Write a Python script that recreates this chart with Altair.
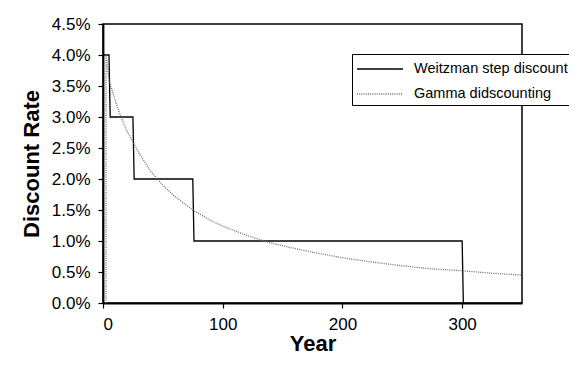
import altair as alt
import pandas as pd

# Weitzman step discount (year, rate %)
step_years = [0, 5, 6, 25, 26, 75, 76, 300, 301]
step_rates = [4.0, 4.0, 3.0, 3.0, 2.0, 2.0, 1.0, 1.0, 0.0]

# Gamma discounting (year, rate %)
gamma_years = [2.5, 2.5, 5, 10, 15, 20, 25, 30, 40, 50, 60, 75, 90, 100, 120,
               140, 160, 180, 200, 225, 250, 275, 300, 325, 350]
gamma_rates = [0.0, 4.0, 3.6, 3.28, 3.0, 2.77, 2.6, 2.42, 2.12, 1.9, 1.72, 1.5,
               1.33, 1.24, 1.09, 0.97, 0.88, 0.8, 0.73, 0.66, 0.6, 0.55, 0.52,
               0.48, 0.45]

series_names = ["Weitzman step discount", "Gamma didscounting"]

rows = []
for i, (x, y) in enumerate(zip(step_years, step_rates)):
    rows.append({"year": x, "rate": y / 100, "series": series_names[0], "i": i})
for i, (x, y) in enumerate(zip(gamma_years, gamma_rates)):
    rows.append({"year": x, "rate": y / 100, "series": series_names[1], "i": i})
df = pd.DataFrame(rows)

font = "Liberation Sans"

chart = alt.Chart(df).mark_line(strokeWidth=1.3, clip=True).encode(
    x=alt.X("year:Q", title="Year",
            scale=alt.Scale(domain=[0, 350], nice=False),
            axis=alt.Axis(values=[0, 100, 200, 300], grid=False,
                          labelPadding=8, titlePadding=1)),
    y=alt.Y("rate:Q", title="Discount Rate",
            scale=alt.Scale(domain=[0, 0.045], nice=False),
            axis=alt.Axis(values=[i * 0.005 for i in range(10)], format=".1%",
                          grid=False, labelPadding=8, titlePadding=8)),
    color=alt.Color("series:N", sort=series_names,
                    scale=alt.Scale(domain=series_names, range=["#000000", "#6e6e6e"]),
                    legend=alt.Legend(title=None, orient="none", legendX=249, legendY=30,
                                      symbolType="M-1,0H3.6", symbolSize=400,
                                      symbolStrokeWidth=1.3,
                                      labelFont=font, labelFontSize=14.5,
                                      labelColor="#000", labelOffset=36,
                                      padding=4, rowPadding=7,
                                      strokeColor="#000", fillColor="#fff")),
    strokeDash=alt.StrokeDash("series:N", sort=series_names,
                              scale=alt.Scale(domain=series_names, range=[[1, 0], [1, 1.2]]),
                              legend=None),
    order="i:Q",
).properties(
    width=419, height=279,
    autosize=alt.AutoSizeParams(type="none"),
    padding={"left": 95, "top": 16, "right": 47, "bottom": 54},
).configure_view(
    stroke="#000", strokeWidth=1.5
).configure_axis(
    domainColor="#000", domainWidth=1.8, tickColor="#000", tickWidth=1.2,
    tickSize=5, labelFont=font, labelFontSize=17, labelColor="#000",
    titleFont=font, titleFontSize=22, titleFontWeight="bold", titleColor="#000"
)

chart.save("out.html", embed_options={"renderer": "svg", "actions": False})
